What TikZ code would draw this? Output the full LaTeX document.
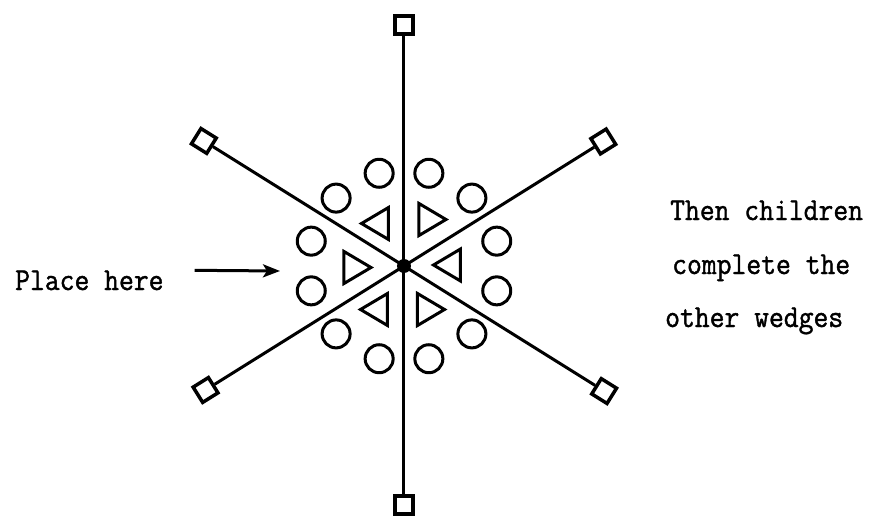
\documentclass[tikz,border=0pt]{standalone}
\usepackage{fontspec}
\usepackage{tikz}
\usetikzlibrary{arrows.meta,positioning}
\newfontfamily\typefont[FakeStretch=0.9,FakeBold=1.2]{Latin Modern Mono}

\begin{document}
\begin{tikzpicture}[
  x=1pt,y=1pt,
  spoke/.style={line width=3pt},
  endbox/.style={rectangle,draw,line width=3.5pt,minimum size=18pt,inner sep=0pt},
  hubdot/.style={circle,fill,minimum size=14pt,inner sep=0pt},
  ring/.style={circle,draw,line width=3pt,minimum size=28pt,inner sep=0pt},
  wedgetri/.style={line width=3pt,line join=miter},
  notetext/.style={font=\fontsize{32}{53}\selectfont\typefont,inner sep=0pt,anchor=base west},
  arrow/.style={-{Stealth[length=17pt,width=13pt,inset=4pt]},line width=3pt},
]
\useasboundingbox (-404,-251) rectangle (480,266);

\node[hubdot] (hub) at (0,0) {};
\foreach \a/\r in {90/241,32/235,148/236,212/234,270/239,328/236}
  \node[endbox,rotate=\a] (end\a) at (\a:\r) {};
\foreach \a in {90,32,148,212,270,328}
  \draw[spoke] (hub.center) -- (end\a);

\foreach \a in {15,45,...,345}
  \node[ring] (ring\a) at (\a:96) {};

\foreach \x/\y/\d in {43/1/-1,28.5/46.5/1,-29/42.5/-1,-46.5/-1.5/1,-30/-43.5/-1,27/-43.5/1}
  \draw[wedgetri,shift={(\x,\y)},xscale=\d] (-13.5,-16) -- (-13.5,16) -- (13.5,0) -- cycle;

\node[notetext] (placelbl) at (-389,-24) {Place here};
\coordinate (placetip) at (-124,-5);
\draw[arrow] (placelbl.east) ++(31,10) -- (placetip);

\node[notetext] (thenline) at (266,46) {Then children};
\node[notetext] (completeline) at (268,-8) {complete the};
\node[notetext] (otherline) at (261,-61) {other wedges};
\end{tikzpicture}
\end{document}
